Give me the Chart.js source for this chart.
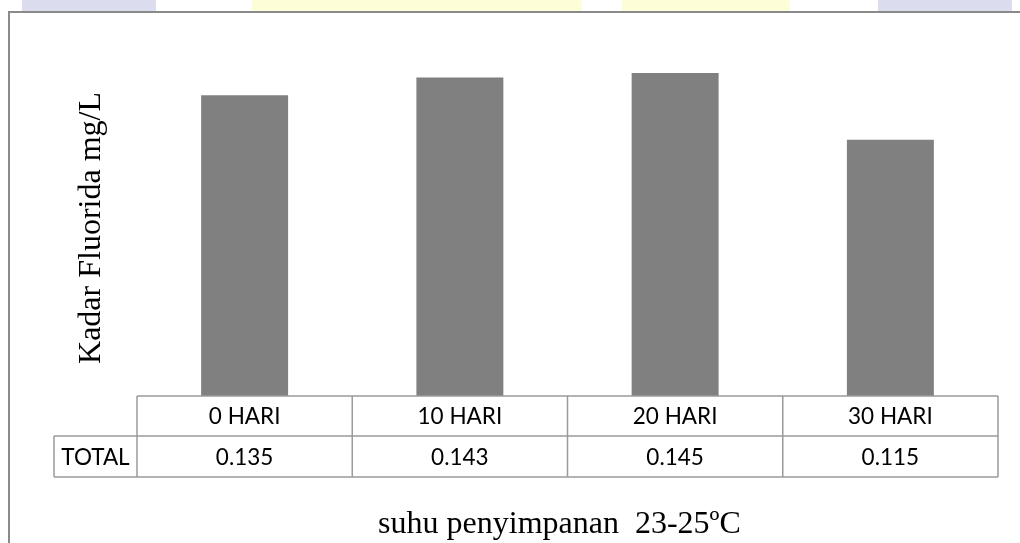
<!DOCTYPE html>
<html>
<head>
<meta charset="utf-8">
<script src="https://cdn.jsdelivr.net/npm/chart.js@4/dist/chart.umd.min.js"></script>
<style>
html,body{margin:0;padding:0;background:#fff;}
#wrap{position:relative;width:1020px;height:543px;}
</style>
</head>
<body>
<div id="wrap"><canvas id="c"></canvas></div>
<script>
const categories = ['0 HARI', '10 HARI', '20 HARI', '30 HARI'];
const totals = [0.135, 0.143, 0.145, 0.115];
const seriesLabel = 'TOTAL';
const yTitle = 'Kadar Fluorida mg/L';
const xTitle = 'suhu penyimpanan  23-25ºC';
const yMin = 0;
const yMax = 0.16;

const TABLE_FONT = '"Lato", "Open Sans", sans-serif';
const SERIF = '"Liberation Serif", "DejaVu Serif", serif';

const decorPlugin = {
  id: 'decor',
  beforeDraw(chart) {
    const ctx = chart.ctx;
    ctx.save();
    ctx.fillStyle = '#ffffff';
    ctx.fillRect(0, 0, chart.width, chart.height);
    // faint watermark band above the frame
    ctx.fillStyle = '#dcdcef';
    ctx.fillRect(22, 0, 134, 11);
    ctx.fillRect(878, 0, 134, 11);
    ctx.fillStyle = '#fdfdd8';
    ctx.fillRect(252, 0, 330, 11);
    ctx.fillRect(622, 0, 168, 11);
    // outer frame
    ctx.strokeStyle = '#8a8a8a';
    ctx.lineWidth = 2;
    ctx.beginPath();
    ctx.moveTo(9, chart.height + 5);
    ctx.lineTo(9, 12);
    ctx.lineTo(chart.width + 5, 12);
    ctx.stroke();
    ctx.restore();
  },
  afterDraw(chart) {
    const ctx = chart.ctx;
    const area = chart.chartArea;
    const xs = chart.scales.x;
    const n = categories.length;
    const half = area.width / n / 2;
    const rowTop = area.bottom;
    const rowMid = rowTop + 40;
    const rowBot = rowMid + 41;
    const labelLeft = 54;
    ctx.save();
    ctx.strokeStyle = '#9a9a9a';
    ctx.lineWidth = 1.5;
    ctx.beginPath();
    ctx.moveTo(area.left, rowTop); ctx.lineTo(area.right, rowTop);
    ctx.moveTo(labelLeft, rowMid); ctx.lineTo(area.right, rowMid);
    ctx.moveTo(labelLeft, rowBot); ctx.lineTo(area.right, rowBot);
    ctx.moveTo(labelLeft, rowMid); ctx.lineTo(labelLeft, rowBot);
    for (let i = 0; i < n; i++) {
      const l = xs.getPixelForValue(i) - half;
      ctx.moveTo(l, rowTop); ctx.lineTo(l, rowBot);
    }
    ctx.moveTo(area.right, rowTop); ctx.lineTo(area.right, rowBot);
    ctx.stroke();

    ctx.fillStyle = '#000';
    ctx.font = '22.5px ' + TABLE_FONT;
    ctx.textAlign = 'center';
    ctx.textBaseline = 'alphabetic';
    for (let i = 0; i < n; i++) {
      const cx = xs.getPixelForValue(i);
      ctx.fillText(categories[i], cx, rowTop + 28);
      ctx.fillText(totals[i].toFixed(3), cx, rowMid + 28.5);
    }
    ctx.fillText(seriesLabel, (labelLeft + area.left) / 2, rowMid + 28.5);

    // axis titles
    ctx.font = '32px ' + SERIF;
    ctx.fillText(xTitle, 559.5, 533);
    ctx.translate(100, 228);
    ctx.rotate(-Math.PI / 2);
    ctx.fillText(yTitle, 0, 0);
    ctx.restore();
  }
};

new Chart(document.getElementById('c'), {
  type: 'bar',
  data: {
    labels: categories,
    datasets: [{
      label: seriesLabel,
      data: totals,
      backgroundColor: '#808080',
      borderWidth: 0,
      categoryPercentage: 1,
      barPercentage: 0.404
    }]
  },
  options: {
    responsive: true,
    maintainAspectRatio: false,
    animation: false,
    layout: { padding: { left: 137, right: 22, top: 39.5, bottom: 147 } },
    plugins: { legend: { display: false }, tooltip: { enabled: false } },
    scales: {
      x: { display: false },
      y: { display: false, min: yMin, max: yMax }
    }
  },
  plugins: [decorPlugin]
});
</script>
</body>
</html>
